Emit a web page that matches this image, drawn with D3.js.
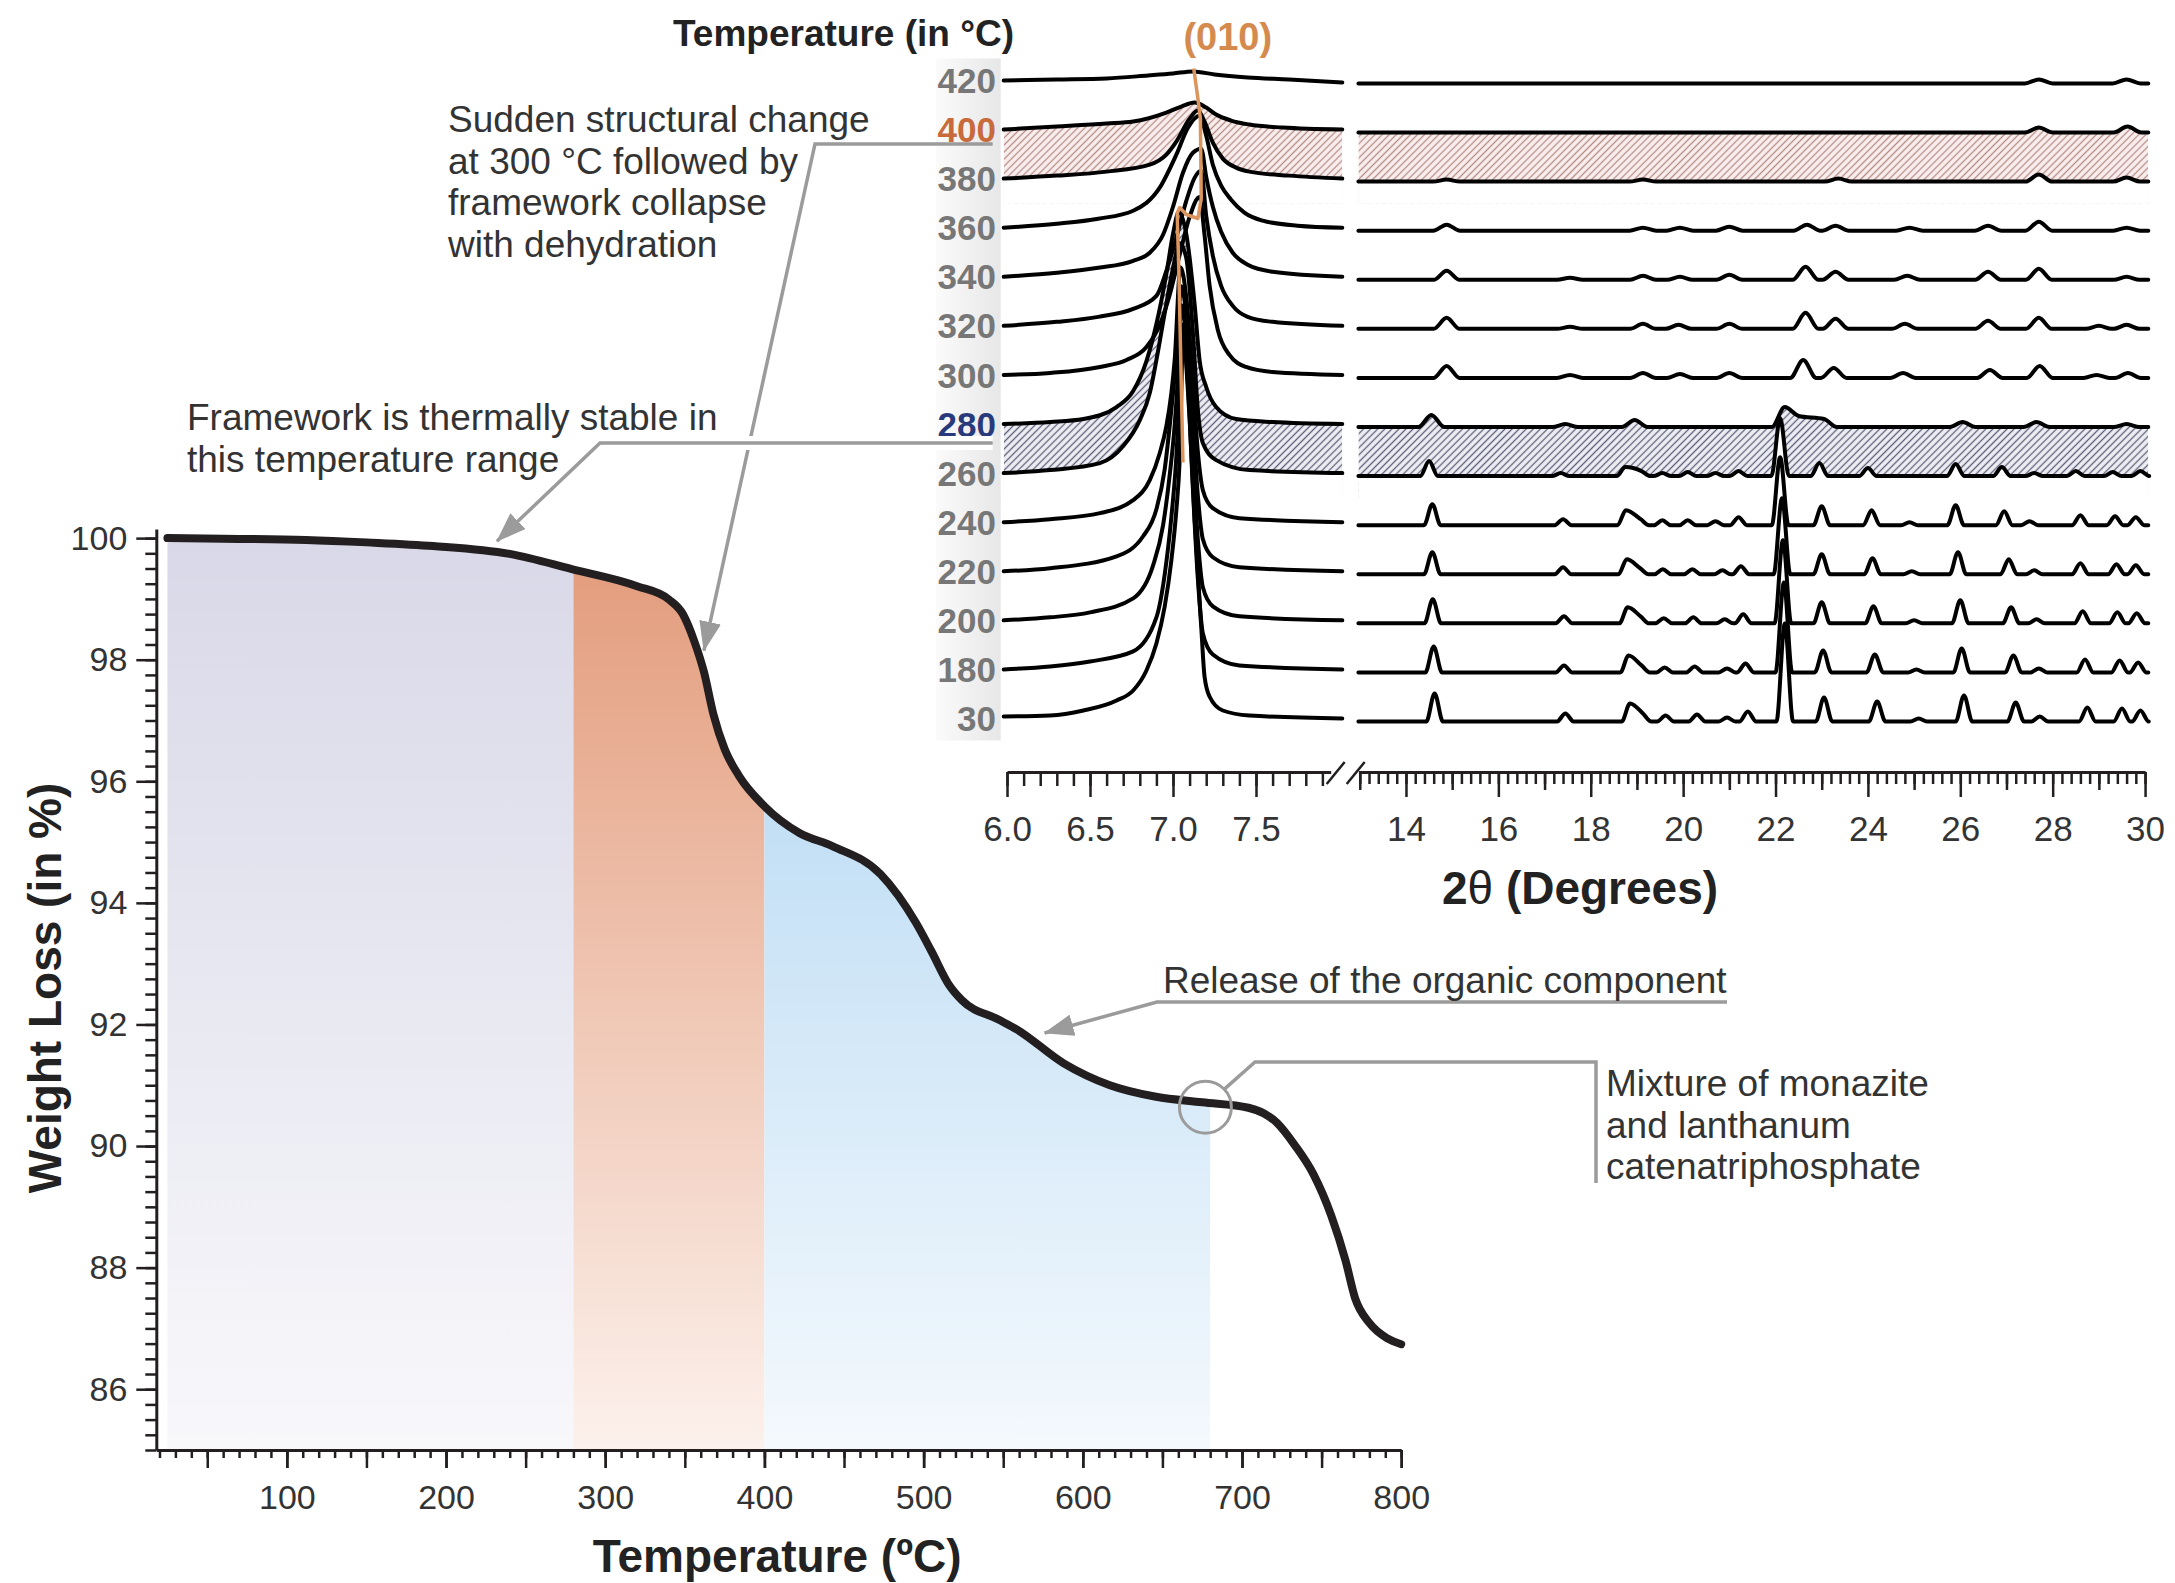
<!DOCTYPE html>
<html>
<head>
<meta charset="utf-8">
<script src="https://cdn.jsdelivr.net/npm/d3@7"></script>
<style>
  body { margin: 0; background: #fff; }
  svg { display: block; }
  text { font-family: "Liberation Sans", Arial, Helvetica, sans-serif; }
</style>
</head>
<body>
<svg id="chart" width="2175" height="1583"></svg>
<script>
// ---- TGA curve: temperature (°C) / weight (%)
const tgaTemp = [25, 60, 112, 150, 192, 240, 279, 320, 340, 349, 356, 362, 368, 375, 384, 400, 422, 443, 473, 495, 505, 516, 524, 547, 559, 588, 617, 646, 675, 704, 722, 733, 745, 756, 765, 771, 780, 791, 800];
const tgaWeight = [100, 99.99, 99.97, 99.93, 99.87, 99.74, 99.49, 99.21, 98.99, 98.74, 98.3, 97.8, 97.1, 96.53, 96.09, 95.59, 95.15, 94.93, 94.47, 93.68, 93.2, 92.65, 92.4, 92.08, 91.91, 91.36, 91.0, 90.81, 90.72, 90.63, 90.38, 90.02, 89.53, 88.86, 88.12, 87.5, 87.09, 86.84, 86.74];
// shaded ranges under the curve
const regionStart = [18, 280, 400];
const regionEnd = [280, 400, 680];
const tgaXTicks = [100, 200, 300, 400, 500, 600, 700, 800];
const tgaYTicks = [86, 88, 90, 92, 94, 96, 98, 100];

// ---- XRD stack, bottom to top
const xrdTemps = [30, 180, 200, 220, 240, 260, 280, 300, 320, 340, 360, 380, 400, 420];

// low angle window, [2theta, intensity]
const low30  = [[5.98,2],[6.26,3],[6.46,8],[6.66,18],[6.76,28],[6.84,48],[6.9,75],[6.95,112],[6.99,158],[7.02,208],[7.04,258],[7.06,375],[7.1,300],[7.13,200],[7.17,92],[7.19,42],[7.22,22],[7.3,8],[7.46,3],[8.02,0]];
const low180 = [[5.98,0],[6.26,3],[6.5,8],[6.76,18],[6.9,52],[6.95,95],[6.99,152],[7.02,212],[7.04,278],[7.055,345],[7.09,285],[7.12,180],[7.15,90],[7.18,36],[7.24,15],[7.4,4],[8.02,0]];
const low200 = [[5.98,0],[6.26,3],[6.5,8],[6.76,22],[6.88,55],[6.94,95],[6.98,145],[7.01,195],[7.03,245],[7.05,315],[7.085,270],[7.12,160],[7.15,80],[7.18,33],[7.24,14],[7.4,4],[8.02,0]];
const low220 = [[5.98,0],[6.26,3],[6.66,15],[6.82,35],[6.9,62],[6.95,102],[6.98,145],[7.0,178],[7.02,212],[7.05,285],[7.085,245],[7.12,150],[7.15,75],[7.18,32],[7.24,14],[7.4,4],[8.02,0]];
const low240 = [[5.98,0],[6.26,3],[6.56,9],[6.76,22],[6.86,42],[6.92,69],[6.96,96],[6.99,129],[7.01,162],[7.045,255],[7.08,225],[7.12,140],[7.15,70],[7.18,32],[7.24,14],[7.4,4],[8.02,0]];
const low260 = [[5.98,0],[6.26,3],[6.56,10],[6.7,27],[6.8,53],[6.86,80],[6.9,113],[6.95,160],[7.0,205],[7.04,230],[7.08,215],[7.12,140],[7.15,63],[7.18,30],[7.26,13],[7.46,3],[8.02,0]];
const low280 = [[5.98,0],[6.26,2],[6.46,5],[6.66,17],[6.76,33],[6.84,63],[6.9,100],[6.96,150],[7.0,190],[7.035,212],[7.08,190],[7.13,120],[7.16,64],[7.2,37],[7.26,17],[7.38,5],[7.6,2],[8.02,0]];
const low300 = [[5.98,0],[6.26,2],[6.56,8],[6.72,15],[6.84,28],[6.92,50],[6.98,80],[7.04,120],[7.1,158],[7.16,178],[7.19,140],[7.22,90],[7.27,45],[7.34,20],[7.44,8],[7.6,3],[8.02,0]];
const low320 = [[5.98,0],[6.3,4],[6.55,9],[6.76,17],[6.9,30],[6.96,55],[7.02,88],[7.08,125],[7.13,148],[7.17,155],[7.2,110],[7.24,70],[7.29,40],[7.36,20],[7.45,9],[7.6,4],[8.02,0]];
const low340 = [[5.98,0],[6.3,4],[6.55,9],[6.76,16],[6.86,24],[6.94,42],[7.0,70],[7.06,104],[7.12,124],[7.17,128],[7.2,100],[7.24,70],[7.29,45],[7.36,24],[7.45,12],[7.6,5],[8.02,0]];
const low360 = [[5.98,0],[6.3,4],[6.55,9],[6.76,17],[6.92,40],[7.02,73],[7.09,100],[7.16,112],[7.2,92],[7.24,63],[7.29,42],[7.35,28],[7.43,15],[7.54,7],[7.75,2],[8.02,0]];
const low380 = [[5.98,0],[6.3,3],[6.6,7],[6.86,14],[6.96,24],[7.02,37],[7.1,60],[7.15,68],[7.19,57],[7.24,36],[7.3,20],[7.38,11],[7.46,7],[7.7,3],[8.02,0]];
const low400 = [[5.98,0],[6.3,3],[6.6,6],[6.76,8],[6.96,17],[7.05,23],[7.13,27],[7.2,22],[7.26,15],[7.35,9],[7.46,5],[7.66,2],[8.02,0]];
const low420 = [[5.98,0],[6.3,1],[6.6,2],[6.85,5],[7.0,7],[7.12,9],[7.25,6],[7.45,3],[7.7,1],[8.02,-2]];

// high angle window, reflections [2theta, height]
const high30  = [[14.62,28],[17.45,8],[18.85,18],[19.13,8],[19.62,6],[20.3,7],[20.95,4],[21.4,10],[22.2,98],[23.05,24],[24.2,20],[25.1,3],[26.08,26],[27.2,19],[27.72,5],[28.75,14],[29.5,13],[29.9,11]];
const high180 = [[14.6,26],[17.42,7],[18.82,17],[19.1,7],[19.6,5],[20.25,6],[20.95,4],[21.35,9],[22.18,90],[23.03,22],[24.15,18],[25.05,3],[26.03,24],[27.15,17],[27.7,4],[28.7,13],[29.45,12],[29.85,10]];
const high200 = [[14.58,24],[17.42,7],[18.8,16],[19.08,7],[19.58,5],[20.22,6],[20.9,4],[21.3,9],[22.16,83],[23.0,21],[24.12,17],[25.0,3],[26.0,23],[27.1,16],[27.65,4],[28.65,12],[29.4,11],[29.82,10]];
const high220 = [[14.57,22],[17.4,7],[18.78,15],[19.07,6],[19.56,5],[20.2,5],[20.85,4],[21.25,8],[22.14,76],[23.0,20],[24.1,16],[24.95,3],[25.95,22],[27.05,15],[27.6,4],[28.6,11],[29.38,10],[29.8,9]];
const high240 = [[14.57,21],[17.4,6],[18.76,15],[19.08,6],[19.55,5],[20.1,5],[20.7,4],[21.2,8],[22.1,68],[23.0,19],[24.08,15],[24.9,3],[25.9,20],[26.95,14],[27.5,4],[28.6,10],[29.35,9],[29.8,8]];
const high260 = [[14.5,15],[17.35,3],[18.75,9],[19.1,5],[19.55,3],[20.1,4],[20.7,3],[21.2,5],[22.1,58],[22.95,13],[24.0,8],[25.9,12],[26.9,9],[27.6,3],[28.5,5],[29.3,4],[29.9,5]];
const high280 = [[14.55,12],[17.45,3],[18.95,7],[22.2,20],[22.5,11],[23.05,8],[26.05,5],[27.65,5],[29.6,3]];
const high300 = [[14.88,12],[17.55,3],[19.13,5],[19.93,4],[21.0,5],[22.6,18],[23.26,10],[24.76,5],[26.64,8],[27.72,12],[28.95,3],[29.63,5]];
const high320 = [[14.88,11],[17.55,2],[19.13,5],[19.9,4],[21.0,5],[22.65,16],[23.3,10],[24.8,5],[26.6,8],[27.7,11],[29.0,3],[29.6,4]];
const high340 = [[14.88,9],[17.55,2],[19.13,4],[19.93,3],[21.0,5],[22.65,13],[23.3,8],[24.85,4],[26.6,8],[27.7,11],[29.6,3]];
const high360 = [[14.88,6],[19.13,3],[19.93,3],[21.0,4],[22.68,6],[23.3,5],[24.9,3],[26.6,5],[27.7,9],[29.6,3]];
const high380 = [[14.88,2],[19.13,2],[23.36,3],[27.7,7],[29.6,4]];
const high400 = [[27.7,5],[29.62,6]];
const high420 = [[27.7,4],[29.6,4]];
// half width of the reflections (degrees), same order as xrdTemps
const highWidth = [0.18, 0.18, 0.18, 0.18, 0.18, 0.19, 0.28, 0.28, 0.28, 0.28, 0.29, 0.29, 0.3, 0.3];

// (010) guide, [2theta, height above the 30 °C baseline]
const guide010 = [[7.125,650],[7.15,620],[7.165,600],[7.17,520],[7.15,500],[7.08,504],[7.04,511],[7.025,505],[7.035,450],[7.06,256]];

const lowTicks = [6.0, 6.5, 7.0, 7.5];
const highTicks = [14, 16, 18, 20, 22, 24, 26, 28, 30];

const lowProfiles = [low30, low180, low200, low220, low240, low260, low280, low300, low320, low340, low360, low380, low400, low420];
const highPeaks = [high30, high180, high200, high220, high240, high260, high280, high300, high320, high340, high360, high380, high400, high420];

// ---------------------------------------------------------------
const W = 2175, H = 1583;
const ink = '#231f20';
const svg = d3.select('#chart');
const defs = svg.append('defs');

// ================= TGA panel =================
const x = d3.scaleLinear().domain([18, 800]).range([156.3, 1401.2]);
const y = d3.scaleLinear().domain([85, 100.15]).range([1450, 529]);
const tga = tgaTemp.map((t, i) => [t, tgaWeight[i]]);

const regionTop = ['#d8d8e8', '#e49f80', '#c2dff5'];
const regionBottom = ['#f8f8fb', '#fcf1ec', '#f4f9fd'];

const area = d3.area()
  .x(d => x(d[0])).y0(y(85)).y1(d => y(d[1]))
  .curve(d3.curveMonotoneX);

regionStart.forEach((s, i) => {
  const inside = tga.filter(d => d[0] >= s && d[0] <= regionEnd[i]);
  const topW = d3.max(inside, d => d[1]);
  const g = defs.append('linearGradient').attr('id', 'reg' + i)
    .attr('gradientUnits', 'userSpaceOnUse')
    .attr('x1', 0).attr('x2', 0).attr('y1', y(topW)).attr('y2', y(85));
  g.append('stop').attr('offset', '0%').attr('stop-color', regionTop[i]);
  g.append('stop').attr('offset', '100%').attr('stop-color', regionBottom[i]);
  defs.append('clipPath').attr('id', 'clip' + i)
    .append('rect')
    .attr('x', x(s)).attr('width', x(regionEnd[i]) - x(s))
    .attr('y', 0).attr('height', y(85));
  svg.append('path')
    .attr('d', area(tga))
    .attr('fill', `url(#reg${i})`)
    .attr('clip-path', `url(#clip${i})`);
});

// axes
function axisStyle(g, keepDomain, size) {
  g.attr('font-size', size || 34);
  if (keepDomain) g.select('.domain').attr('stroke', ink).attr('stroke-width', 3);
  else g.select('.domain').remove();
  g.selectAll('.tick line').attr('stroke', ink).attr('stroke-width', 2.5);
  g.selectAll('.tick text').attr('fill', '#333');
}

svg.append('g').attr('transform', `translate(0,${y(85)})`)
  .call(d3.axisBottom(x).tickValues(d3.range(20, 801, 10)).tickSize(8).tickSizeOuter(0).tickFormat(''))
  .call(g => axisStyle(g, true));
svg.append('g').attr('transform', `translate(0,${y(85)})`)
  .call(d3.axisBottom(x).tickValues(d3.range(50, 801, 50)).tickSize(18).tickSizeOuter(0).tickFormat(''))
  .call(g => axisStyle(g, false));
svg.append('g').attr('transform', `translate(0,${y(85)})`)
  .call(d3.axisBottom(x).tickValues(tgaXTicks).tickSize(18).tickPadding(17).tickSizeOuter(0))
  .call(g => axisStyle(g, false));

svg.append('g').attr('transform', `translate(${x(18)},0)`)
  .call(d3.axisLeft(y).tickValues(d3.range(85, 100.01, 0.25)).tickSize(11).tickSizeOuter(0).tickFormat(''))
  .call(g => axisStyle(g, true));
svg.append('g').attr('transform', `translate(${x(18)},0)`)
  .call(d3.axisLeft(y).tickValues(tgaYTicks).tickSize(20).tickPadding(9).tickSizeOuter(0))
  .call(g => axisStyle(g, false));

// curve
svg.append('path')
  .attr('d', d3.line().x(d => x(d[0])).y(d => y(d[1])).curve(d3.curveMonotoneX)(tga))
  .attr('fill', 'none').attr('stroke', ink).attr('stroke-width', 8).attr('stroke-linecap', 'round');

svg.append('text').attr('x', x(408)).attr('y', 1572)
  .attr('text-anchor', 'middle').attr('font-size', 46).attr('font-weight', 'bold').attr('fill', '#222')
  .text('Temperature (ºC)');
svg.append('text').attr('transform', `translate(61,${y(92.6)}) rotate(-90)`)
  .attr('text-anchor', 'middle').attr('font-size', 46).attr('font-weight', 'bold').attr('fill', '#222')
  .text('Weight Loss (in %)');

// ================= XRD panel =================
const xL = d3.scaleLinear().domain([5.98, 8.02]).range([1003.7, 1342.3]);
const xR = d3.scaleLinear().domain([12.97, 30.07]).range([1358.4, 2148.3]);
const yS = d3.scaleLinear().domain([0, 700]).range([718.5, 18.5]);
const step = 49.08;
const highShift = -3;
const base = i => i * step;

function peakVertices(peaks, w) {
  const pts = [[12.97, 0]];
  let skipLeft = false;
  peaks.forEach((p, i) => {
    if (!skipLeft) pts.push([p[0] - w, 0]);
    pts.push(p);
    const next = peaks[i + 1];
    skipLeft = !!next && next[0] - w <= p[0] + w;
    if (!skipLeft) pts.push([p[0] + w, 0]);
  });
  pts.push([30.07, 0]);
  return pts;
}
const highProfiles = highPeaks.map((p, i) => peakVertices(p, highWidth[i]));

const lineL = i => d3.line().x(d => xL(d[0])).y(d => yS(base(i) + d[1])).curve(d3.curveMonotoneX);
const lineR = i => d3.line().x(d => xR(d[0])).y(d => yS(base(i) + highShift + d[1])).curve(d3.curveMonotoneX);
const areaL = (i, bottom) => d3.area().x(d => xL(d[0])).y0(bottom).y1(d => yS(base(i) + d[1])).curve(d3.curveMonotoneX);
const areaR = (i, bottom) => d3.area().x(d => xR(d[0])).y0(bottom).y1(d => yS(base(i) + highShift + d[1])).curve(d3.curveMonotoneX);

// grey strip behind the temperature labels
const strip = defs.append('linearGradient').attr('id', 'strip').attr('x1', 0).attr('x2', 1).attr('y1', 0).attr('y2', 0);
strip.append('stop').attr('offset', '0%').attr('stop-color', '#fbfbfb');
strip.append('stop').attr('offset', '100%').attr('stop-color', '#e7e7e7');
svg.append('rect').attr('x', 936).attr('y', yS(base(13)) - 22).attr('width', xL(5.98) - 936 - 3)
  .attr('height', yS(base(0)) + 22 - (yS(base(13)) - 22)).attr('fill', 'url(#strip)');

// hatched bands
function hatch(id, bg, line) {
  const p = defs.append('pattern').attr('id', id).attr('patternUnits', 'userSpaceOnUse')
    .attr('width', 5).attr('height', 5).attr('patternTransform', 'rotate(45)');
  p.append('rect').attr('width', 5).attr('height', 5).attr('fill', bg);
  p.append('line').attr('x1', 2.5).attr('x2', 2.5).attr('y1', 0).attr('y2', 5)
    .attr('stroke', line).attr('stroke-width', 1.3);
}
hatch('hatchRed', '#f8efee', '#b98b86');
hatch('hatchBlue', '#eeeef4', '#5d5f78');

function band(upper, lower, pattern) {
  const iu = xrdTemps.indexOf(upper), il = xrdTemps.indexOf(lower);
  const bottom = yS(base(il)) + 25;
  const id = 'mask' + upper;
  const m = defs.append('mask').attr('id', id).attr('maskUnits', 'userSpaceOnUse')
    .attr('x', 0).attr('y', 0).attr('width', W).attr('height', H);
  m.append('path').attr('d', areaL(iu, bottom)(lowProfiles[iu])).attr('fill', '#fff');
  m.append('path').attr('d', areaR(iu, bottom)(highProfiles[iu])).attr('fill', '#fff');
  m.append('path').attr('d', areaL(il, bottom)(lowProfiles[il])).attr('fill', '#000');
  m.append('path').attr('d', areaR(il, bottom)(highProfiles[il])).attr('fill', '#000');
  const g = svg.append('g').attr('mask', `url(#${id})`);
  g.append('rect').attr('x', xL(5.98)).attr('width', xL(8.02) - xL(5.98))
    .attr('y', 0).attr('height', bottom).attr('fill', `url(#${pattern})`);
  g.append('rect').attr('x', xR(12.97)).attr('width', xR(30.07) - xR(12.97))
    .attr('y', 0).attr('height', bottom).attr('fill', `url(#${pattern})`);
}
band(400, 380, 'hatchRed');
band(280, 260, 'hatchBlue');

// patterns
const traces = svg.append('g').attr('fill', 'none').attr('stroke', '#000')
  .attr('stroke-width', 4).attr('stroke-linejoin', 'round').attr('stroke-linecap', 'round');
xrdTemps.forEach((t, i) => {
  traces.append('path').attr('d', lineL(i)(lowProfiles[i]));
  traces.append('path').attr('d', lineR(i)(highProfiles[i]));
});

// (010) guide
svg.append('path')
  .attr('d', d3.line().x(d => xL(d[0])).y(d => yS(d[1]))(guide010))
  .attr('fill', 'none').attr('stroke', '#dc955c').attr('stroke-width', 3.5).attr('stroke-linejoin', 'round');
svg.append('text').attr('x', xL(7.33)).attr('y', 50).attr('text-anchor', 'middle')
  .attr('font-size', 38).attr('font-weight', 'bold').attr('fill', '#d58a4e').text('(010)');

// temperature labels
const labelColor = t => t === 400 ? '#c96a3c' : t === 280 ? '#283a7c' : '#777';
svg.append('g').selectAll('text').data(xrdTemps).join('text')
  .attr('x', 996).attr('y', (t, i) => yS(base(i))).attr('dy', '0.36em')
  .attr('text-anchor', 'end').attr('font-size', 35).attr('font-weight', 'bold')
  .attr('fill', labelColor).text(t => t);
svg.append('text').attr('x', 1014).attr('y', 46).attr('text-anchor', 'end')
  .attr('font-size', 37).attr('font-weight', 'bold').attr('fill', '#222').text('Temperature (in °C)');

// XRD axes (broken)
const axY = 772;
const xLa = xL.copy().domain([6.0, 7.95]).range([xL(6.0), xL(7.95)]);
const xRa = xR.copy().domain([12.97, 30]).range([xR(12.97), xR(30)]);
svg.append('g').attr('transform', `translate(0,${axY})`)
  .call(d3.axisBottom(xLa).tickValues(d3.range(60, 80).map(d => d / 10)).tickSize(14).tickSizeOuter(0).tickFormat(''))
  .call(g => axisStyle(g, true));
svg.append('g').attr('transform', `translate(0,${axY})`)
  .call(d3.axisBottom(xLa).tickValues(lowTicks).tickSize(25).tickPadding(19).tickSizeOuter(0).tickFormat(d3.format('.1f')))
  .call(g => axisStyle(g, false, 35));
svg.append('g').attr('transform', `translate(0,${axY})`)
  .call(d3.axisBottom(xRa).tickValues(d3.range(65, 151).map(d => d / 5)).tickSize(12).tickSizeOuter(0).tickFormat(''))
  .call(g => axisStyle(g, true));
svg.append('g').attr('transform', `translate(0,${axY})`)
  .call(d3.axisBottom(xRa).tickValues(d3.range(13, 30, 2)).tickSize(18).tickSizeOuter(0).tickFormat(''))
  .call(g => axisStyle(g, false));
svg.append('g').attr('transform', `translate(0,${axY})`)
  .call(d3.axisBottom(xRa).tickValues(highTicks).tickSize(25).tickPadding(19).tickSizeOuter(0))
  .call(g => axisStyle(g, false, 35));
// break marks
const brk = svg.append('g').attr('stroke', ink).attr('stroke-width', 2.5);
[xL(7.95) - 4, xL(7.95) + 16].forEach(bx => {
  brk.append('line').attr('x1', bx).attr('y1', axY + 12).attr('x2', bx + 18).attr('y2', axY - 10);
});
const theta = svg.append('text').attr('x', 1580).attr('y', 904)
  .attr('text-anchor', 'middle').attr('font-size', 46).attr('font-weight', 'bold').attr('fill', '#222');
theta.append('tspan').text('2');
theta.append('tspan').attr('font-weight', 'normal').text('θ');
theta.append('tspan').text(' (Degrees)');

// ================= annotations =================
const grey = '#9b9b9b';
defs.append('marker').attr('id', 'arrow').attr('markerUnits', 'userSpaceOnUse')
  .attr('viewBox', '0 0 30 22').attr('refX', 29).attr('refY', 11)
  .attr('markerWidth', 30).attr('markerHeight', 22).attr('orient', 'auto')
  .append('path').attr('d', 'M0,0 L30,11 L0,22 Z').attr('fill', grey);

function note(lines, x0, y0) {
  const t = svg.append('text').attr('font-size', 37).attr('fill', '#333');
  lines.forEach((s, i) => t.append('tspan').attr('x', x0).attr('y', y0 + i * 41.5).text(s));
}
const conn = svg.append('g').attr('fill', 'none').attr('stroke', grey).attr('stroke-width', 3.5);

// structural change -> TGA step
conn.append('path')
  .attr('d', `M${xL(5.98) - 11},144 H815 L${x(362)},${y(98.15)}`)
  .attr('marker-end', 'url(#arrow)');
// thermal stability -> plateau (crosses the line above)
conn.append('path').attr('d', `M${xL(5.98) - 11},443 H600`).attr('stroke', '#fff').attr('stroke-width', 14);
conn.append('path')
  .attr('d', `M${xL(5.98) - 11},443 H600 L${x(232)},${y(99.95)}`)
  .attr('marker-end', 'url(#arrow)');
// organic release
conn.append('path')
  .attr('d', `M1727,1002 H1157 L${x(576)},${y(91.86)}`)
  .attr('marker-end', 'url(#arrow)');
// residue circle
const cx = x(677), cy = y(90.64);
conn.append('circle').attr('cx', cx).attr('cy', cy).attr('r', 26).attr('stroke-width', 3);
conn.append('path').attr('d', `M${cx + 19},${cy - 18} L1255,1062 H1596 V1183`);

note(['Sudden structural change', 'at 300 °C followed by', 'framework collapse', 'with dehydration'], 448, 132);
note(['Framework is thermally stable in', 'this temperature range'], 187, 430);
note(['Release of the organic component'], 1163, 993);
note(['Mixture of monazite', 'and lanthanum', 'catenatriphosphate'], 1606, 1096);
</script>
</body>
</html>
